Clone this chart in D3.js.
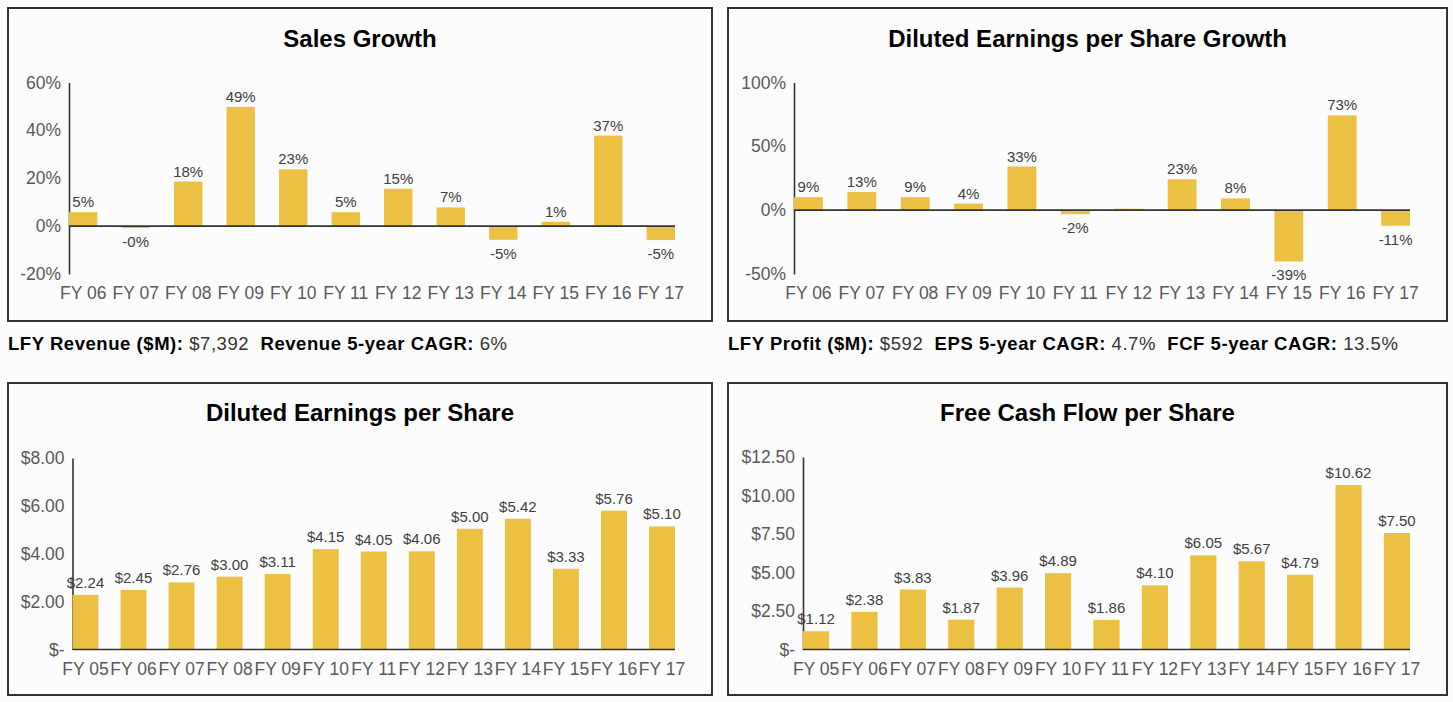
<!DOCTYPE html>
<html>
<head>
<meta charset="utf-8">
<script src="https://cdn.jsdelivr.net/npm/d3@7"></script>
<style>
  html, body { margin: 0; padding: 0; background: #fcfcfc; }
  svg { display: block; font-family: "Liberation Sans", Arial, sans-serif; }
</style>
</head>
<body>
<svg id="chart" width="1453" height="702"></svg>
<script>
// ---------- data ----------
const growthYears = ["FY 06","FY 07","FY 08","FY 09","FY 10","FY 11","FY 12","FY 13","FY 14","FY 15","FY 16","FY 17"];
const salesGrowth = [5.4, -0.4, 18.2, 49.4, 23.3, 5.4, 15.2, 7.4, -5.3, 1.4, 37.4, -5.4];
const epsGrowth   = [9.4, 13.4, 9.4, 4.4, 33.4, -2.4, 0.4, 23.4, 8.4, -39.4, 73.4, -11.4];
const epsGrowthHiddenLabels = ["FY 12"];
const salesTicks = [-20, 0, 20, 40, 60];
const epsGrowthTicks = [-50, 0, 50, 100];

const perShareYears = ["FY 05","FY 06","FY 07","FY 08","FY 09","FY 10","FY 11","FY 12","FY 13","FY 14","FY 15","FY 16","FY 17"];
const dilutedEPS = [2.24, 2.45, 2.76, 3.00, 3.11, 4.15, 4.05, 4.06, 5.00, 5.42, 3.33, 5.76, 5.10];
const fcfPerShare = [1.12, 2.38, 3.83, 1.87, 3.96, 4.89, 1.86, 4.10, 6.05, 5.67, 4.79, 10.62, 7.50];
const epsTicks = [0, 2, 4, 6, 8];
const fcfTicks = [0, 2.5, 5, 7.5, 10, 12.5];

const footerLeft  = [["LFY Revenue ($M): ", "$7,392"], ["Revenue 5-year CAGR: ", "6%"]];
const footerRight = [["LFY Profit ($M): ", "$592"], ["EPS 5-year CAGR: ", "4.7%"], ["FCF 5-year CAGR: ", "13.5%"]];

// ---------- drawing ----------
const svg = d3.select("#chart");
const BAR = "#ECC043";
const pct = d => (d < 0 ? "-" : "") + Math.abs(Math.round(d)) + "%";
const money = d => d === 0 ? "$-" : "$" + d3.format(",.2f")(d);
const FONT = "Liberation Sans, Arial, sans-serif";

function panel(o) {
  const g = svg.append("g");
  g.append("rect").attr("x", o.box[0]).attr("y", o.box[1]).attr("width", o.box[2]).attr("height", o.box[3])
    .attr("fill", "#fcfcfc").attr("stroke", "#333").attr("stroke-width", 2);
  g.append("text").attr("x", o.box[0] + o.box[2] / 2).attr("y", o.titleY)
    .attr("text-anchor", "middle").attr("font-size", 24).attr("font-weight", "bold").attr("fill", "#000")
    .text(o.title);

  const x = d3.scaleBand().domain(o.cats).range(o.xr).paddingInner(0.46).paddingOuter(0);
  const y = d3.scaleLinear().domain(o.yd).range(o.yr);
  const rows = o.cats.map((c, i) => ({ c, v: o.vals[i] }));

  // y axis
  const ya = g.append("g").attr("transform", `translate(${o.xr[0]},0)`)
    .call(d3.axisLeft(y).tickValues(o.ticks).tickFormat(o.tickFmt).tickSize(0).tickSizeOuter(0).tickPadding(8));
  ya.select(".domain").attr("stroke", "#333").attr("stroke-width", 1.6);
  ya.selectAll("text").attr("font-size", 17.5).attr("fill", "#595959").attr("font-family", FONT);

  // bars
  g.selectAll("rect.bar").data(rows).join("rect").attr("class", "bar")
    .attr("x", d => x(d.c))
    .attr("width", x.bandwidth())
    .attr("y", d => y(Math.max(0, d.v)) - (d.v > 0 ? 1 : 0))
    .attr("height", d => Math.abs(y(d.v) - y(0)) + 1)
    .attr("fill", BAR);

  // zero line
  g.append("line").attr("x1", o.xr[0]).attr("x2", o.xr[1]).attr("y1", y(0)).attr("y2", y(0))
    .attr("stroke", "#333").attr("stroke-width", 1.6);

  // value labels
  g.selectAll("text.val").data(rows.filter(d => !(o.hidden || []).includes(d.c))).join("text").attr("class", "val")
    .attr("x", d => x(d.c) + x.bandwidth() / 2)
    .attr("y", d => d.v >= 0 ? y(d.v) - o.above : y(d.v) + o.below)
    .attr("text-anchor", "middle").attr("font-size", 15).attr("fill", "#404040")
    .text(d => o.valFmt(d.v));

  // x axis labels
  const xa = g.append("g").attr("transform", `translate(0,${o.xLabelY})`)
    .call(d3.axisBottom(x).tickSize(0).tickPadding(0));
  xa.select(".domain").remove();
  xa.selectAll("text").attr("font-size", 17.5).attr("fill", "#595959").attr("font-family", FONT);
}

panel({ box: [8, 8, 704, 313], titleY: 47, title: "Sales Growth", cats: growthYears, vals: salesGrowth,
  xr: [69, 675], yd: [-20, 60], yr: [274, 82.5], ticks: salesTicks, tickFmt: d => d + "%",
  valFmt: pct, above: 6, below: 20, xLabelY: 287 });

panel({ box: [728, 8, 719, 313], titleY: 47, title: "Diluted Earnings per Share Growth", cats: growthYears, vals: epsGrowth,
  hidden: epsGrowthHiddenLabels,
  xr: [794, 1410], yd: [-50, 100], yr: [274, 82.5], ticks: epsGrowthTicks, tickFmt: d => d + "%",
  valFmt: pct, above: 6, below: 20, xLabelY: 287 });

panel({ box: [8, 383, 704, 312], titleY: 421, title: "Diluted Earnings per Share", cats: perShareYears, vals: dilutedEPS,
  xr: [72.5, 675], yd: [0, 8], yr: [649.5, 458], ticks: epsTicks, tickFmt: money,
  valFmt: money, above: 8, below: 20, xLabelY: 663 });

panel({ box: [728, 383, 719, 312], titleY: 421, title: "Free Cash Flow per Share", cats: perShareYears, vals: fcfPerShare,
  xr: [803, 1410], yd: [0, 12.5], yr: [649.5, 457], ticks: fcfTicks, tickFmt: money,
  valFmt: money, above: 8, below: 20, xLabelY: 663 });

function footer(parts, x0, yb) {
  const t = svg.append("text").attr("x", x0).attr("y", yb).attr("font-size", 18.5)
    .attr("letter-spacing", 0.55).attr("xml:space", "preserve");
  parts.forEach((p, i) => {
    t.append("tspan").attr("font-weight", "bold").attr("fill", "#000").text((i > 0 ? "  " : "") + p[0]);
    t.append("tspan").attr("fill", "#333").text(p[1]);
  });
}
footer(footerLeft, 8, 350);
footer(footerRight, 728, 350);
</script>
</body>
</html>
